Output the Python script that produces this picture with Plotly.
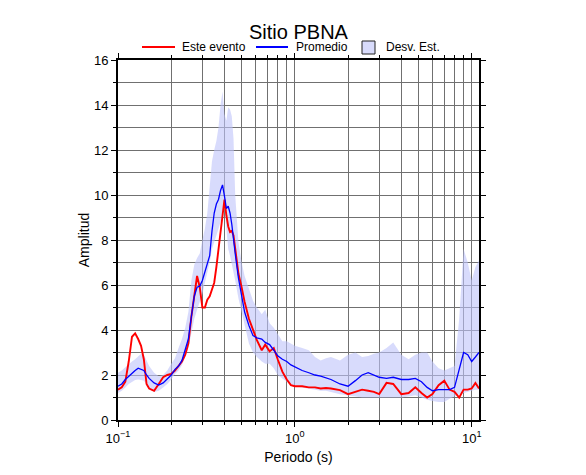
import plotly.graph_objects as go

periods = [0.100, 0.105, 0.110, 0.115, 0.120, 0.125, 0.130, 0.135, 0.140, 0.145,
           0.150, 0.160, 0.170, 0.180, 0.190, 0.200, 0.210, 0.220, 0.230, 0.240,
           0.250, 0.260, 0.270, 0.280, 0.290, 0.300, 0.310, 0.320, 0.330, 0.340,
           0.350, 0.360, 0.370, 0.380, 0.390, 0.400, 0.410, 0.420, 0.430, 0.440,
           0.450, 0.460, 0.480, 0.500, 0.520, 0.550, 0.580, 0.610, 0.650, 0.680,
           0.720, 0.760, 0.800, 0.850, 0.900, 0.950, 1.0, 1.1, 1.2, 1.3,
           1.4, 1.5, 1.6, 1.8, 2.0, 2.2, 2.4, 2.6, 2.8, 3.0,
           3.3, 3.6, 4.0, 4.4, 4.8, 5.2, 5.6, 6.0, 6.5, 7.0,
           7.5, 8.0, 8.5, 9.0, 9.5, 10.0, 10.5, 11.0]

este_evento = [1.35, 1.45, 1.7, 2.6, 3.7, 3.85, 3.6, 3.3, 2.7, 1.6,
               1.4, 1.3, 1.6, 1.9, 2.0, 2.05, 2.2, 2.4, 2.6, 2.9,
               3.4, 4.6, 5.6, 6.4, 5.9, 5.0, 5.0, 5.35, 5.5, 5.8,
               6.1, 6.8, 7.6, 8.3, 9.1, 9.8, 9.1, 8.6, 8.35, 8.4,
               8.2, 7.6, 6.5, 5.9, 5.25, 4.5, 4.0, 3.55, 3.1, 3.35,
               3.05, 3.2, 2.7, 2.15, 1.8, 1.55, 1.5, 1.5, 1.45, 1.45,
               1.4, 1.42, 1.4, 1.33, 1.15, 1.25, 1.35, 1.3, 1.25, 1.15,
               1.65, 1.6, 1.15, 1.2, 1.45, 1.2, 1.0, 1.15, 1.55, 1.75,
               1.35, 1.25, 1.0, 1.35, 1.35, 1.4, 1.65, 1.4]

promedio = [1.5, 1.6, 1.8, 1.95, 2.1, 2.2, 2.3, 2.25, 2.2, 2.0,
            1.85, 1.65, 1.55, 1.65, 1.85, 2.0, 2.25, 2.4, 2.65, 3.1,
            3.6, 4.6, 5.5, 5.9, 5.95, 6.2, 6.6, 6.9, 7.3, 8.4,
            9.2, 9.6, 9.8, 10.2, 10.45, 9.95, 9.4, 9.5, 9.2, 8.7,
            8.0, 7.4, 6.3, 5.5, 4.8, 4.2, 3.75, 3.65, 3.6, 3.45,
            3.35, 3.1, 2.85, 2.7, 2.6, 2.45, 2.35, 2.2, 2.1, 2.0,
            1.95, 1.87, 1.8, 1.6, 1.5, 1.75, 2.0, 2.1, 2.0, 1.9,
            1.85, 1.9, 1.8, 1.8, 1.85, 1.7, 1.45, 1.3, 1.35, 1.35,
            1.35, 1.45, 2.3, 3.0, 2.9, 2.6, 2.8, 3.0]

desv_sup = [2.1, 2.2, 2.35, 2.5, 2.6, 2.7, 2.85, 2.95, 2.9, 2.6,
            2.4, 2.1, 1.95, 2.0, 2.2, 2.5, 2.75, 3.2, 3.6, 4.1,
            4.8, 6.2, 6.9, 7.2, 7.4, 8.0, 8.5, 9.2, 10.5, 11.5,
            12.0, 12.4, 13.0, 14.0, 14.6, 13.6, 13.3, 13.9, 13.8, 13.5,
            12.5, 10.0, 7.9, 7.0, 6.4, 5.8, 5.3, 5.0, 4.7, 4.9,
            4.3, 4.1, 3.8, 3.5, 3.5, 3.4, 3.3, 3.2, 3.1, 2.8,
            2.65, 2.75, 2.8, 2.65, 2.9, 3.0, 2.8, 2.85, 2.95, 3.0,
            3.2, 3.45, 2.9, 2.7, 2.9, 3.0, 3.0, 2.6, 2.3, 2.2,
            2.3, 2.4, 4.5, 7.6, 7.0, 6.2, 6.8, 7.1]

desv_inf = [1.2, 1.3, 1.45, 1.6, 1.7, 1.78, 1.8, 1.78, 1.75, 1.6,
            1.4, 1.25, 1.3, 1.45, 1.6, 1.8, 2.05, 2.2, 2.45, 2.8,
            3.2, 3.9, 4.5, 4.9, 5.2, 5.6, 6.1, 6.6, 7.0, 7.6,
            7.9, 8.2, 8.5, 8.75, 9.1, 9.4, 8.5, 7.6, 7.3, 6.9,
            6.6, 6.2, 5.4, 4.7, 4.2, 3.4, 3.0, 2.8, 2.6, 2.5,
            2.5, 2.3, 2.0, 1.85, 1.7, 1.6, 1.5, 1.45, 1.4, 1.35,
            1.3, 1.3, 1.25, 1.15, 1.1, 1.05, 1.0, 1.0, 1.0, 1.0,
            1.0, 1.0, 1.0, 1.05, 1.1, 1.0, 0.9, 0.85, 0.8, 0.8,
            0.95, 1.05, 1.15, 1.2, 1.25, 1.3, 1.35, 1.35]

x_major = [0.1, 1, 10]
x_major_text = ["10<sup>\u22121</sup>", "10<sup>0</sup>", "10<sup>1</sup>"]
x_minor = [0.2, 0.3, 0.4, 0.5, 0.6, 0.7, 0.8, 0.9, 2, 3, 4, 5, 6, 7, 8, 9]

legend_labels = ["Este evento", "Promedio", "Desv. Est."]

RED = "#ff0000"
BLUE = "#0000ff"
BAND = "rgba(190,195,250,0.6)"
BAND_SOLID = "#d8dbfb"
FONT = "Liberation Sans, Arial, sans-serif"
GRID = "#707070"

# plot area in page pixels (page body has an 8px margin)
PL, PR, PT, PB = 118, 479, 60, 420
def px_x(p):
    return (p - PL) / (PR - PL)
def px_y(p):
    return (PB - p) / (PB - PT)

fig = go.Figure()
fig.add_trace(go.Scatter(
    x=periods + periods[::-1], y=desv_sup + desv_inf[::-1],
    fill="toself", fillcolor=BAND, line=dict(width=0),
    mode="lines", showlegend=False, hoverinfo="skip"))
fig.add_trace(go.Scatter(x=periods, y=este_evento, mode="lines", showlegend=False,
                         line=dict(color=RED, width=1.9), name=legend_labels[0]))
fig.add_trace(go.Scatter(x=periods, y=promedio, mode="lines", showlegend=False,
                         line=dict(color=BLUE, width=1.3), name=legend_labels[1]))

# manual legend above the plot
ly = px_y(47)
shapes = [
    dict(type="line", xref="paper", yref="paper", x0=px_x(142), x1=px_x(175),
         y0=ly, y1=ly, line=dict(color=RED, width=2)),
    dict(type="line", xref="paper", yref="paper", x0=px_x(256), x1=px_x(288),
         y0=ly, y1=ly, line=dict(color=BLUE, width=2)),
    dict(type="rect", xref="paper", yref="paper", x0=px_x(362), x1=px_x(375),
         y0=px_y(54), y1=px_y(41), fillcolor=BAND_SOLID,
         line=dict(color="#222222", width=1)),
]
annotations = [
    dict(text=legend_labels[0], xref="paper", yref="paper", x=px_x(180), y=ly,
         xanchor="left", yanchor="middle", showarrow=False, font=dict(size=12)),
    dict(text=legend_labels[1], xref="paper", yref="paper", x=px_x(294), y=ly,
         xanchor="left", yanchor="middle", showarrow=False, font=dict(size=12)),
    dict(text=legend_labels[2], xref="paper", yref="paper", x=px_x(384), y=ly,
         xanchor="left", yanchor="middle", showarrow=False, font=dict(size=12)),
]

fig.update_layout(
    width=578, height=467,
    margin=dict(l=110, r=107, t=52, b=55),
    paper_bgcolor="white", plot_bgcolor="white",
    font=dict(family=FONT, color="black", size=12),
    title=dict(text="Sitio PBNA", x=0.5, xref="paper", y=1 - 24 / 467,
               yanchor="middle", font=dict(size=20, family=FONT)),
    showlegend=False,
    shapes=shapes, annotations=annotations,
)

fig.update_xaxes(
    type="log", range=[-1, 1.0414],
    tickvals=x_major, ticktext=x_major_text,
    ticks="outside", ticklen=5, tickwidth=1, tickcolor="black",
    tickfont=dict(size=13),
    showgrid=True, gridcolor=GRID, gridwidth=1,
    minor=dict(tickvals=x_minor, ticks="outside", ticklen=3, tickcolor="black",
               showgrid=True, gridcolor=GRID, gridwidth=1),
    showline=True, linecolor="black", linewidth=2, mirror="ticks",
    zeroline=False,
    title=dict(text="Periodo (s)", font=dict(size=14), standoff=8),
)
fig.update_yaxes(
    range=[0, 16], dtick=2, tick0=0,
    ticks="outside", ticklen=5, tickwidth=1, tickcolor="black",
    tickfont=dict(size=13),
    showgrid=True, gridcolor=GRID, gridwidth=1,
    minor=dict(dtick=1, ticks="outside", ticklen=3, tickcolor="black",
               showgrid=True, gridcolor=GRID, gridwidth=1),
    showline=True, linecolor="black", linewidth=2, mirror="ticks",
    zeroline=False,
    title=dict(text="Amplitud", font=dict(size=14), standoff=1),
)

fig.write_html("out.html")
